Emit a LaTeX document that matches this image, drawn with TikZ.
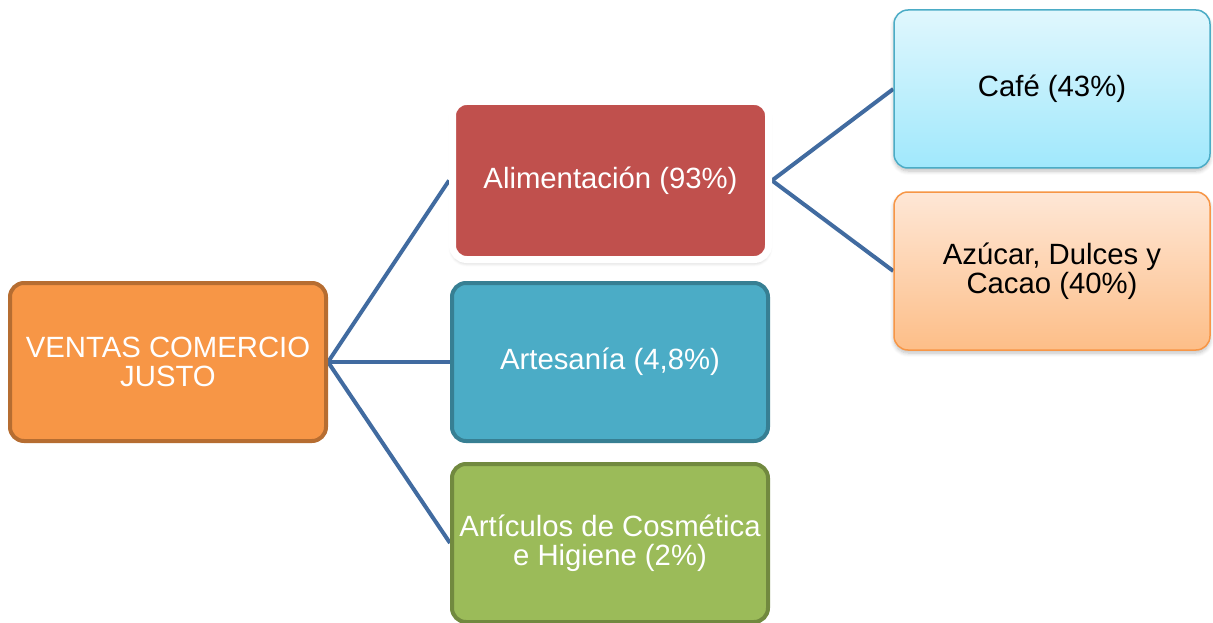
\documentclass[tikz,border=0pt]{standalone}
\usepackage{fontspec}
\setmainfont{Liberation Sans}
\usetikzlibrary{shadows.blur,backgrounds}
\definecolor{orfill}{HTML}{F79646}
\definecolor{ordraw}{HTML}{B66D31}
\definecolor{redfill}{HTML}{C0504D}
\definecolor{bluefill}{HTML}{4BACC6}
\definecolor{bluedraw}{HTML}{377F93}
\definecolor{greenfill}{HTML}{9BBB59}
\definecolor{greendraw}{HTML}{71893F}
\definecolor{conn}{RGB}{65,107,160}
\definecolor{cafetop}{HTML}{E0F7FD}
\definecolor{cafebot}{HTML}{A0E8FC}
\definecolor{cafedraw}{HTML}{4BACC6}
\definecolor{aztop}{HTML}{FEE7D6}
\definecolor{azbot}{HTML}{FDBE88}
\definecolor{azdraw}{HTML}{F79646}
\tikzset{
  box/.style={rectangle, rounded corners=14pt, minimum width=316pt, minimum height=158pt,
    align=center, inner sep=2pt, font=\fontsize{29.3}{29.5}\selectfont},
  mainbox/.style={box, text=white, line width=4pt},
  softshadow/.style={blur shadow={shadow xshift=0pt, shadow yshift=-3pt, shadow blur steps=6, shadow opacity=25, shadow blur radius=4pt}},
  connector/.style={draw=conn, line width=4pt}
}
\begin{document}
\begin{tikzpicture}[x=1pt,y=-1pt]
\useasboundingbox (0,0) rectangle (1213,623);
\node[mainbox, fill=orfill, draw=ordraw] (ventas) at (168,362) {VENTAS COMERCIO\\JUSTO};
\node[mainbox, fill=redfill, draw=white, line width=7pt, softshadow] (alim) at (610.5,180.5) {Alimentación (93\%)};
\node[mainbox, fill=bluefill, draw=bluedraw] (arte) at (610,362) {Artesanía (4,8\%)};
\node[mainbox, fill=greenfill, draw=greendraw] (cosm) at (610,543) {Artículos de Cosmética\\e Higiene (2\%)};
\node[box, top color=cafetop, bottom color=cafebot, draw=cafedraw, line width=1.5pt, softshadow] (cafe) at (1052,89) {Café (43\%)};
\node[box, top color=aztop, bottom color=azbot, draw=azdraw, line width=1.5pt, softshadow] (azucar) at (1052,271) {Azúcar, Dulces y\\Cacao (40\%)};
\begin{pgfonlayer}{background}
\draw[connector] (ventas.east) -- (alim.west);
\draw[connector] (ventas.east) -- (arte.west);
\draw[connector] (ventas.east) -- (cosm.west);
\draw[connector] (alim.east) -- (cafe.west);
\draw[connector] (alim.east) -- (azucar.west);
\end{pgfonlayer}
\end{tikzpicture}
\end{document}
